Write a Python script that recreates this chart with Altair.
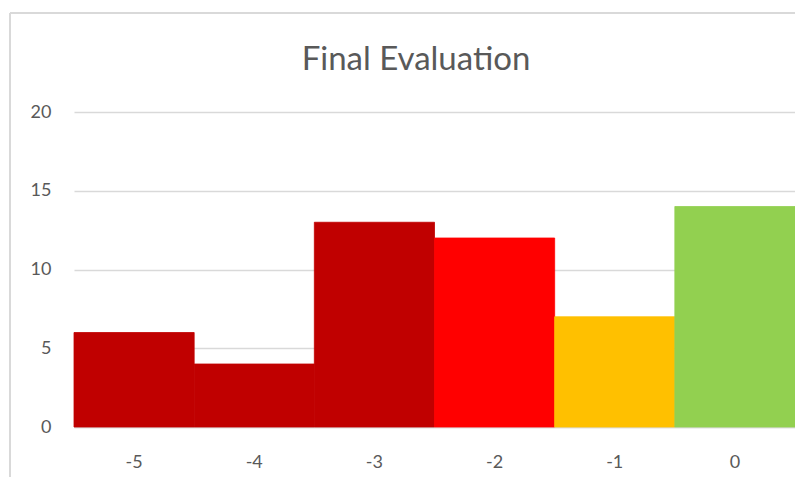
import altair as alt
import pandas as pd

categories = ["-5", "-4", "-3", "-2", "-1", "0"]
counts = [6, 4, 13, 12, 7, 14]
colors = ["#C00000", "#C00000", "#C00000", "#FF0000", "#FFC000", "#92D050"]
title_text = "Final Evaluation"

df = pd.DataFrame({"cat": categories, "count": counts, "key": [f"k{i}" for i in range(len(categories))]})

font = "Lato"
grey = "#595959"

color_scale = alt.Scale(domain=list(df["key"]), range=colors)

bars = alt.Chart(df).mark_bar(strokeWidth=0.8).encode(
    x=alt.X("cat:N", sort=categories,
            scale=alt.Scale(paddingInner=0, paddingOuter=0),
            axis=alt.Axis(title=None, labelAngle=0, ticks=False, labelPadding=26,
                          labelFontSize=18, labelColor=grey, labelFont=font,
                          domainColor="#d9d9d9", domainWidth=1.5)),
    y=alt.Y("count:Q", scale=alt.Scale(domain=[0, 20]),
            axis=alt.Axis(title=None, values=[0, 5, 10, 15, 20], ticks=False, domain=False,
                          labelPadding=23, labelFontSize=18, labelColor=grey, labelFont=font,
                          gridColor="#d9d9d9", gridWidth=1.5)),
    color=alt.Color("key:N", scale=color_scale, legend=None),
    stroke=alt.Stroke("key:N", scale=color_scale, legend=None),
)

title = alt.Chart(pd.DataFrame({"t": [title_text]})).mark_text(
    font=font, fontSize=33, color=grey, align="center", baseline="alphabetic"
).encode(text="t:N", x=alt.value(342), y=alt.value(-42))

border = alt.Chart(df).mark_rule(color="#d9d9d9", strokeWidth=1.5, clip=False).encode(
    x=alt.value(-64), x2=alt.value(-64), y=alt.value(-99), y2=alt.value(400)
)
border_top = alt.Chart(df).mark_rule(color="#d9d9d9", strokeWidth=1.5, clip=False).encode(
    x=alt.value(-64), x2=alt.value(760), y=alt.value(-99), y2=alt.value(-99)
)

chart = alt.layer(bars, title, border, border_top).properties(
    width=721, height=315,
    autosize=alt.AutoSizeParams(type="none"),
    padding={"left": 66, "top": 104, "right": 0, "bottom": 50},
).configure_view(stroke=None)

chart.save("out.html", embed_options={"renderer": "svg", "actions": False})
